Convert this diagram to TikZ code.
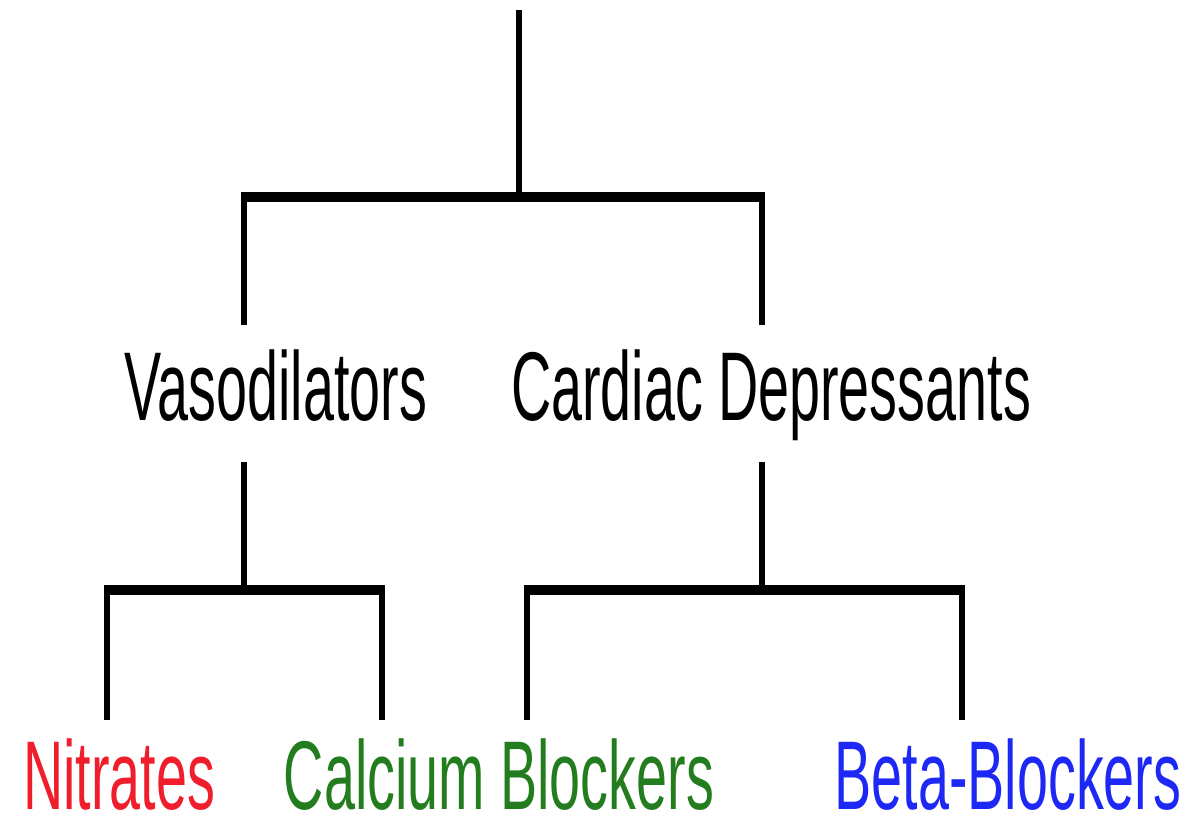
\documentclass[tikz,border=0pt]{standalone}
\usepackage{fontspec}
\newfontfamily\labelfont[FakeStretch=0.57]{Liberation Sans}
\definecolor{nitrateRed}{RGB}{240,30,45}
\definecolor{calciumGreen}{RGB}{35,125,30}
\definecolor{betaBlue}{RGB}{30,40,245}
\newcommand{\drugLabel}[5][black]{
    \path (#2, #3) node[label text, text=#1](#4){#5};
}
\newcommand{\junction}[3]{
    \coordinate (#1) at (#2, #3);
}

\begin{document}
\begin{tikzpicture}[x=0.02cm, y=-0.02cm,
    trunk/.style={line width=3.4pt},
    crossbar/.style={line width=5.7pt, shorten <=-0.06cm, shorten >=-0.06cm},
    label text/.style={anchor=base, inner sep=0pt, font=\labelfont\fontsize{55.6}{60}\selectfont}]
	\useasboundingbox (0,0) rectangle (1199,819);

	% labels
	\drugLabel{276}{420}{vaso}{Vasodilators};
	\drugLabel{771}{420}{cardiac}{Cardiac Depressants};
	\drugLabel[nitrateRed]{119}{809}{nitrates}{Nitrates};
	\drugLabel[calciumGreen]{499}{809}{calcium}{Calcium Blockers};
	\drugLabel[betaBlue]{1008}{809}{beta}{Beta-Blockers};

	% top level
	\junction{top}{519}{10}
	\junction{split}{519}{197}
	\junction{vasoBar}{244}{197}
	\junction{cardBar}{762}{197}
	\junction{vasoIn}{244}{325}
	\junction{cardIn}{762}{325}
	\draw[trunk] (top) -- (split);
	\draw[crossbar] (vasoBar) -- (cardBar);
	\draw[trunk] (vasoBar) -- (vasoIn);
	\draw[trunk] (cardBar) -- (cardIn);

	% vasodilators
	\junction{vasoOut}{244}{462}
	\junction{vasoSplit}{244}{590}
	\junction{nitBar}{107}{590}
	\junction{calLBar}{382}{590}
	\junction{nitIn}{107}{720}
	\junction{calLIn}{382}{720}
	\draw[trunk] (vasoOut) -- (vasoSplit);
	\draw[crossbar] (nitBar) -- (calLBar);
	\draw[trunk] (nitBar) -- (nitIn);
	\draw[trunk] (calLBar) -- (calLIn);

	% cardiac depressants
	\junction{cardOut}{762}{462}
	\junction{cardSplit}{762}{590}
	\junction{calRBar}{527}{590}
	\junction{betaBar}{962}{590}
	\junction{calRIn}{527}{720}
	\junction{betaIn}{962}{720}
	\draw[trunk] (cardOut) -- (cardSplit);
	\draw[crossbar] (calRBar) -- (betaBar);
	\draw[trunk] (calRBar) -- (calRIn);
	\draw[trunk] (betaBar) -- (betaIn);
\end{tikzpicture}
\end{document}
